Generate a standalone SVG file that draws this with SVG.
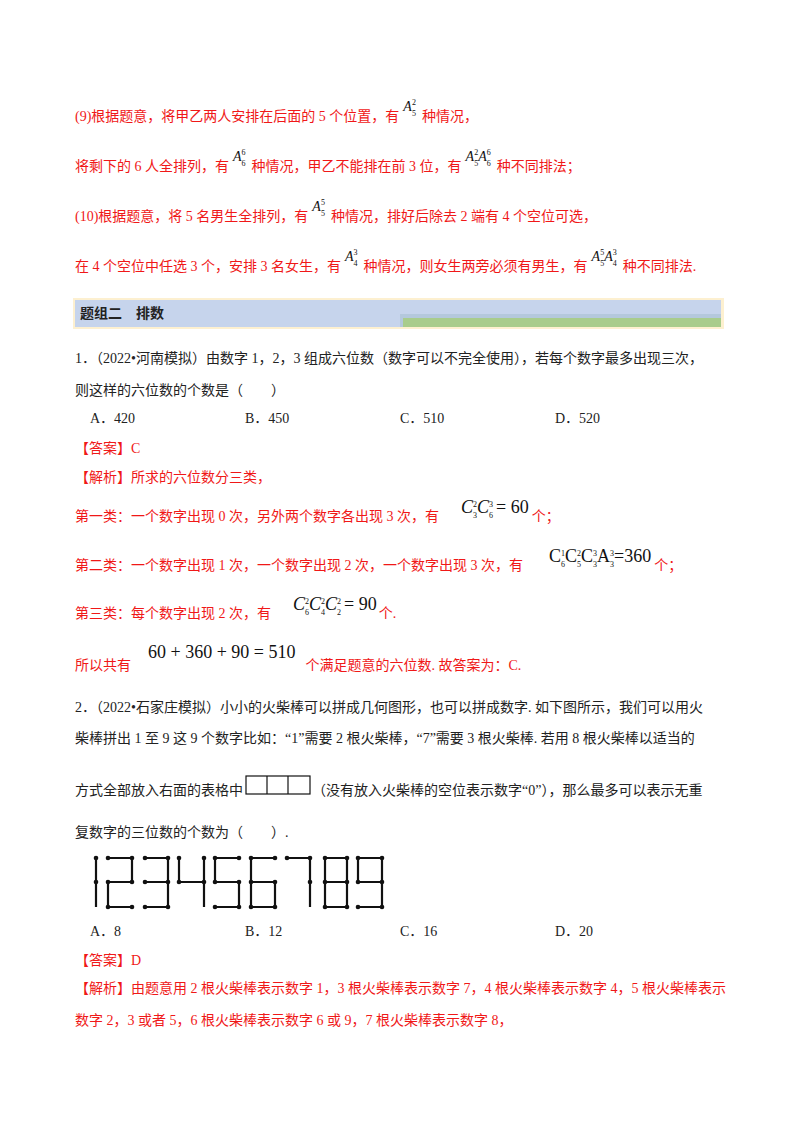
<svg xmlns="http://www.w3.org/2000/svg" width="800" height="1132" viewBox="0 0 800 1132">
<style>
text{font-family:"Liberation Serif","Noto Sans CJK SC",serif;font-size:14px}
.r{fill:#f01818}
.k{fill:#222}
.m{font-family:"Liberation Serif",serif;font-style:italic;fill:#111}
.mn{font-family:"Liberation Serif",serif;fill:#111}
.s{font-size:8px}
.b{font-size:18px}
.ms circle{fill:#111}
.st{fill:none;stroke:#111;stroke-width:2.2}
</style>
<rect width="800" height="1132" fill="#fff"/>
<g id="part9-10">
<text class="r" x="75" y="121">(9)根据题意，将甲乙两人安排在后面的 5 个位置，有<tspan class="m" dx="4" dy="-10">A</tspan><tspan class="mn s" dy="-6">2</tspan><tspan class="mn s" dx="-4" dy="11">5</tspan><tspan dx="6" dy="5">种情况，</tspan></text>
<text class="r" x="75" y="171">将剩下的 6 人全排列，有<tspan class="m" dx="4" dy="-10">A</tspan><tspan class="mn s" dy="-6">6</tspan><tspan class="mn s" dx="-4" dy="11">6</tspan><tspan dx="6" dy="5">种情况，甲乙不能排在前 3 位，有</tspan><tspan class="m" dx="4" dy="-10">A</tspan><tspan class="mn s" dy="-6">2</tspan><tspan class="mn s" dx="-4" dy="11">5</tspan><tspan class="m" dy="-5">A</tspan><tspan class="mn s" dy="-6">6</tspan><tspan class="mn s" dx="-4" dy="11">6</tspan><tspan dx="6" dy="5">种不同排法；</tspan></text>
<text class="r" x="75" y="221">(10)根据题意，将 5 名男生全排列，有<tspan class="m" dx="4" dy="-10">A</tspan><tspan class="mn s" dy="-6">5</tspan><tspan class="mn s" dx="-4" dy="11">5</tspan><tspan dx="6" dy="5">种情况，排好后除去 2 端有 4 个空位可选，</tspan></text>
<text class="r" x="75" y="271">在 4 个空位中任选 3 个，安排 3 名女生，有<tspan class="m" dx="4" dy="-10">A</tspan><tspan class="mn s" dy="-6">3</tspan><tspan class="mn s" dx="-4" dy="11">4</tspan><tspan dx="6" dy="5">种情况，则女生两旁必须有男生，有</tspan><tspan class="m" dx="4" dy="-10">A</tspan><tspan class="mn s" dy="-6">5</tspan><tspan class="mn s" dx="-4" dy="11">5</tspan><tspan class="m" dy="-5">A</tspan><tspan class="mn s" dy="-6">3</tspan><tspan class="mn s" dx="-4" dy="11">4</tspan><tspan dx="6" dy="5">种不同排法.</tspan></text>
</g>
<g id="header">
<rect x="73" y="298" width="651" height="31" fill="#fdf0d0"/>
<rect x="75" y="300" width="646" height="27" fill="#c6d4ec"/>
<rect x="400" y="314" width="321" height="13" fill="#b4c8dc"/>
<rect x="403" y="318" width="318" height="9" fill="#a8cc8c"/>
<text class="k" x="80" y="318" font-weight="bold">题组二　排数</text>
</g>
<g id="q1">
<text class="k" x="75" y="363">1．（2022•河南模拟）由数字 1，2，3 组成六位数（数字可以不完全使用），若每个数字最多出现三次，</text>
<text class="k" x="75" y="395">则这样的六位数的个数是（　　）</text>
<text class="k" x="90" y="423">A．420</text><text class="k" x="245" y="423">B．450</text><text class="k" x="400" y="423">C．510</text><text class="k" x="555" y="423">D．520</text>
<text class="r" x="75" y="453">【答案】C</text>
<text class="r" x="75" y="482">【解析】所求的六位数分三类，</text>
<text class="r" x="75" y="521">第一类：一个数字出现 0 次，另外两个数字各出现 3 次，有<tspan class="m b" dx="22" dy="-8">C</tspan><tspan class="mn s" dy="-6">2</tspan><tspan class="mn s" dx="-4" dy="11">3</tspan><tspan class="m b" dy="-5">C</tspan><tspan class="mn s" dy="-6">3</tspan><tspan class="mn s" dx="-4" dy="11">6</tspan><tspan class="mn b" dx="3" dy="-5">= 60</tspan><tspan dx="3" dy="8">个；</tspan></text>
<text class="r" x="75" y="570">第二类：一个数字出现 1 次，一个数字出现 2 次，一个数字出现 3 次，有<tspan class="mn b" dx="26" dy="-8">C</tspan><tspan class="mn s" dy="-6">1</tspan><tspan class="mn s" dx="-4" dy="11">6</tspan><tspan class="mn b" dy="-5">C</tspan><tspan class="mn s" dy="-6">2</tspan><tspan class="mn s" dx="-4" dy="11">5</tspan><tspan class="mn b" dy="-5">C</tspan><tspan class="mn s" dy="-6">3</tspan><tspan class="mn s" dx="-4" dy="11">3</tspan><tspan class="mn b" dy="-5">A</tspan><tspan class="mn s" dy="-6">3</tspan><tspan class="mn s" dx="-4" dy="11">3</tspan><tspan class="mn b" dy="-5">=360</tspan><tspan dx="3" dy="8">个；</tspan></text>
<text class="r" x="75" y="618">第三类：每个数字出现 2 次，有<tspan class="m b" dx="22" dy="-8">C</tspan><tspan class="mn s" dy="-6">2</tspan><tspan class="mn s" dx="-4" dy="11">6</tspan><tspan class="m b" dy="-5">C</tspan><tspan class="mn s" dy="-6">2</tspan><tspan class="mn s" dx="-4" dy="11">4</tspan><tspan class="m b" dy="-5">C</tspan><tspan class="mn s" dy="-6">2</tspan><tspan class="mn s" dx="-4" dy="11">2</tspan><tspan class="mn b" dx="3" dy="-5">= 90</tspan><tspan dx="2" dy="8">个.</tspan></text>
<text class="r" x="75" y="670">所以共有<tspan class="mn b" dx="17" dy="-12">60 + 360 + 90 = 510</tspan><tspan dx="10" dy="12">个满足题意的六位数. 故答案为：C.</tspan></text>
</g>
<g id="q2">
<text class="k" x="75" y="712">2．（2022•石家庄模拟）小小的火柴棒可以拼成几何图形，也可以拼成数字. 如下图所示，我们可以用火</text>
<text class="k" x="75" y="743">柴棒拼出 1 至 9 这 9 个数字比如：“1”需要 2 根火柴棒，“7”需要 3 根火柴棒. 若用 8 根火柴棒以适当的</text>
<text class="k" x="75" y="795">方式全部放入右面的表格中</text>
<rect x="246" y="776" width="64" height="18" fill="none" stroke="#111" stroke-width="1.2"/>
<line x1="267" y1="776" x2="267" y2="794" stroke="#111" stroke-width="1.2"/>
<line x1="288" y1="776" x2="288" y2="794" stroke="#111" stroke-width="1.2"/>
<text class="k" x="312" y="795">（没有放入火柴棒的空位表示数字“0”），那么最多可以表示无重</text>
<text class="k" x="75" y="837">复数字的三位数的个数为（　　）.</text>
</g>
<g id="matchsticks" class="ms">
<path class="st" d="M96 858V907"/><circle cx="96" cy="858" r="2.3"/><circle cx="96" cy="882" r="2.3"/>
<path class="st" d="M108 858H132V882H108V907H132"/>
<circle cx="108" cy="858" r="2.3"/><circle cx="132" cy="858" r="2.3"/><circle cx="108" cy="882" r="2.3"/><circle cx="132" cy="882" r="2.3"/><circle cx="108" cy="907" r="2.3"/><circle cx="132" cy="907" r="2.3"/>
<path class="st" d="M145 858H168V907H145M145 882H168"/>
<circle cx="145" cy="858" r="2.3"/><circle cx="168" cy="858" r="2.3"/><circle cx="145" cy="882" r="2.3"/><circle cx="168" cy="882" r="2.3"/><circle cx="145" cy="907" r="2.3"/><circle cx="168" cy="907" r="2.3"/>
<path class="st" d="M179 858V882H204M204 858V907"/>
<circle cx="179" cy="858" r="2.3"/><circle cx="204" cy="858" r="2.3"/><circle cx="179" cy="882" r="2.3"/><circle cx="204" cy="882" r="2.3"/>
<path class="st" d="M239 858H215V882H239V907H215"/>
<circle cx="215" cy="858" r="2.3"/><circle cx="239" cy="858" r="2.3"/><circle cx="215" cy="882" r="2.3"/><circle cx="239" cy="882" r="2.3"/><circle cx="215" cy="907" r="2.3"/><circle cx="239" cy="907" r="2.3"/>
<path class="st" d="M275 858H251V907H275V882H251"/>
<circle cx="251" cy="858" r="2.3"/><circle cx="275" cy="858" r="2.3"/><circle cx="251" cy="882" r="2.3"/><circle cx="275" cy="882" r="2.3"/><circle cx="251" cy="907" r="2.3"/><circle cx="275" cy="907" r="2.3"/>
<path class="st" d="M287 858H310V907"/>
<circle cx="287" cy="858" r="2.3"/><circle cx="310" cy="858" r="2.3"/><circle cx="310" cy="882" r="2.3"/>
<path class="st" d="M325 858H347V907H325ZM325 882H347"/>
<circle cx="325" cy="858" r="2.3"/><circle cx="347" cy="858" r="2.3"/><circle cx="325" cy="882" r="2.3"/><circle cx="347" cy="882" r="2.3"/><circle cx="325" cy="907" r="2.3"/><circle cx="347" cy="907" r="2.3"/>
<path class="st" d="M358 907H382V858H358V882H382"/>
<circle cx="358" cy="858" r="2.3"/><circle cx="382" cy="858" r="2.3"/><circle cx="358" cy="882" r="2.3"/><circle cx="382" cy="882" r="2.3"/><circle cx="358" cy="907" r="2.3"/><circle cx="382" cy="907" r="2.3"/>
</g>
<g id="q2-answer">
<text class="k" x="90" y="936">A．8</text><text class="k" x="245" y="936">B．12</text><text class="k" x="400" y="936">C．16</text><text class="k" x="555" y="936">D．20</text>
<text class="r" x="75" y="965">【答案】D</text>
<text class="r" x="75" y="993">【解析】由题意用 2 根火柴棒表示数字 1，3 根火柴棒表示数字 7，4 根火柴棒表示数字 4，5 根火柴棒表示</text>
<text class="r" x="75" y="1025">数字 2，3 或者 5，6 根火柴棒表示数字 6 或 9，7 根火柴棒表示数字 8，</text>
</g>
</svg>
